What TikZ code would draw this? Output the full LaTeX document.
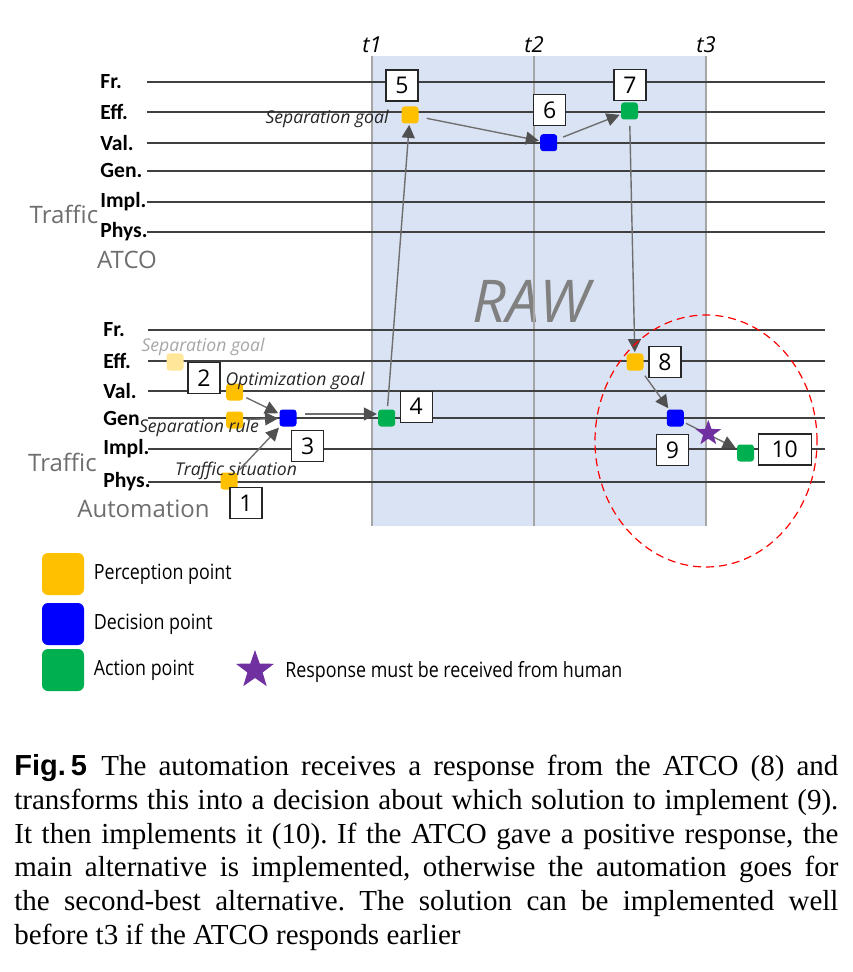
\documentclass[tikz,border=0pt]{standalone}
\usepackage{fontspec}
\usepackage{tikz}
\usetikzlibrary{arrows.meta,positioning,shapes.geometric}
\setmainfont{Open Sans}
\newfontfamily\rowfont{Carlito}
\newfontfamily\legfont{Open Sans}[FakeStretch=0.85]
\newfontfamily\capfont{Liberation Serif}
\newfontfamily\figfont{Liberation Sans}
\definecolor{perc}{HTML}{FFC000}
\definecolor{percfade}{HTML}{FFE699}
\definecolor{decis}{HTML}{0000FF}
\definecolor{actn}{HTML}{00B050}
\definecolor{starcol}{HTML}{7030A0}
\definecolor{rawbg}{HTML}{DAE3F3}
\definecolor{tline}{HTML}{A6A6A6}
\definecolor{gridline}{HTML}{404040}
\definecolor{arrowgray}{HTML}{6F6F6F}
\definecolor{tipgray}{HTML}{505050}
\definecolor{grouptext}{HTML}{6E6E6E}
\frenchspacing

\begin{document}
\begin{tikzpicture}[x=0.5pt,y=-0.5pt,
  ptsq/.style={rectangle,rounded corners=1.5pt,minimum size=8.5pt,inner sep=0pt},
  percept/.style={ptsq,fill=perc},
  decide/.style={ptsq,fill=decis},
  act/.style={ptsq,fill=actn},
  numbox/.style={rectangle,draw=black!85,fill=white,line width=0.6pt,
                 minimum width=16pt,minimum height=15.5pt,inner sep=0pt,
                 font=\fontsize{11.5}{12}\selectfont},
  tag/.style={inner sep=0pt,text=black!85,font=\fontsize{8.8}{10}\selectfont\itshape},
  rowlbl/.style={anchor=west,inner sep=0pt,font=\rowfont\bfseries\fontsize{10.8}{12}\selectfont},
  grouplbl/.style={inner sep=0pt,text=grouptext,font=\fontsize{12}{14}\selectfont},
  tlbl/.style={inner sep=0pt,font=\fontsize{11}{12}\selectfont\itshape},
  arr/.style={-{Triangle[length=6.5pt,width=6.5pt,color=tipgray]},draw=arrowgray,
              line width=0.7pt,shorten <=1.5pt,shorten >=0.5pt},
  hstar/.style={star,star points=5,star point ratio=2.5,fill=starcol,
                minimum size=13.5pt,inner sep=0pt},
  legsq/.style={rectangle,rounded corners=3pt,minimum width=21pt,
                minimum height=21pt,inner sep=0pt},
  legtxt/.style={inner sep=0pt,anchor=west,font=\legfont\fontsize{10.5}{12}\selectfont}
]
\useasboundingbox (0,0) rectangle (852,972);

% --- RAW window
\fill[rawbg] (372,56) rectangle (706,526);
\node[inner sep=0pt,text=black!50,font=\fontsize{29.5}{30}\selectfont\itshape] (raw) at (531,301) {RAW};
\foreach \x/\t in {372/t1,534/t2,706/t3} {
  \draw[tline,line width=0.6pt] (\x,56) -- (\x,526);
  \node[tlbl] (\t) at (\x,45) {\t};
}

% --- ATCO rows
\foreach \lab/\y in {Fr./82,Eff./111.7,Val./142.7,Gen./171,Impl./201.7,Phys./231.7} {
  \node[rowlbl] at (100,\y) {\lab};
  \draw[gridline,line width=0.9pt] (147,\y) -- (825,\y);
}
\node[grouplbl] (trafA) at (64,214) {Traffic};
\node[grouplbl] (atco)  at (127,260) {ATCO};

% --- automation rows
\foreach \lab/\y in {Fr./330,Eff./360.7,Val./390.7,Gen/418,Impl./449,Phys./481.7} {
  \node[rowlbl] at (103,\y) {\lab};
  \draw[gridline,line width=0.9pt] (148,\y) -- (825,\y);
}
\node[grouplbl] (trafB) at (62.5,462) {Traffic};
\node[grouplbl] (auto)  at (143.5,509) {Automation};

% --- automation points
\node[ptsq,fill=percfade] (pg) at (175,362) {};
\node[tag,text=black!35] (tgsep) at (203,347) {Separation goal};
\node[numbox] (n2) at (204,378) {2};
\node[percept] (po) at (234.7,392) {};
\node[tag] (tgopt) at (295,381) {Optimization goal};
\node[percept] (pr) at (234.7,420) {};
\node[tag] (tgrule) at (199,428) {Separation rule};
\node[percept] (p1) at (229,481) {};
\node[tag] (tgsit) at (236,471) {Traffic situation};
\node[numbox] (n1) at (246,503) {1};
\node[decide] (d3) at (288,418) {};
\node[numbox] (n3) at (307.8,446) {3};
\node[act] (a4) at (386.7,418) {};
\node[numbox] (n4) at (416.3,406.7) {4};

% --- ATCO points
\node[percept] (p5) at (410,115) {};
\node[numbox] (n5) at (402,85.5) {5};
\node[tag] (tg5) at (327,119) {Separation goal};
\node[decide] (d6) at (548.7,142.7) {};
\node[numbox] (n6) at (549.7,110.3) {6};
\node[act] (a7) at (629.5,111) {};
\node[numbox] (n7) at (630,85.3) {7};

% --- response
\node[percept] (p8) at (635,362) {};
\node[numbox] (n8) at (665,362) {8};
\node[decide] (d9) at (675.3,418) {};
\node[numbox] (n9) at (672.5,450) {9};
\node[act] (a10) at (745.5,453) {};
\node[numbox,minimum width=26.5pt] (n10) at (784.7,449.5) {10};

\draw[arr] (po) -- (d3);
\draw[arr] (pr) -- (d3);
\draw[arr] (p1) -- (d3);
\draw[arr,shorten <=4pt] ([yshift=2pt]d3.east) -- ([yshift=2pt]a4.west);
\draw[arr] (a4) -- (p5);
\draw[arr,shorten <=4pt] (p5) -- (d6);
\draw[arr,shorten <=3pt] (d6) -- (a7);
\draw[arr,shorten <=3pt] (a7) -- (p8);
\draw[arr,shorten <=3pt] (p8) -- (d9);
\draw[arr,shorten <=1pt] (d9) -- (a10);
\node[hstar] (s9) at (708.3,433.3) {};

\draw[red,dashed,dash pattern=on 4pt off 2.5pt,line width=0.6pt]
  (706,441) ellipse [x radius=55.5pt,y radius=63pt];

% --- legend
\node[legsq,fill=perc]  (lp) at (63,574) {};
\node[legsq,fill=decis] (ld) at (63,624) {};
\node[legsq,fill=actn]  (la) at (63,670) {};
\node[legtxt,right=4.5pt of lp] (lpt) {Perception point};
\node[legtxt,right=4.5pt of ld] (ldt) {Decision point};
\node[legtxt,right=4.5pt of la] (lat) {Action point};
\node[hstar,minimum size=20pt] (ls) at (255,670) {};
\node[legtxt] (lst) at (285,672) {Response must be received from human};

% --- caption
\node[anchor=north west,inner sep=0pt,align=left,
      font=\capfont\fontsize{14.5}{16.9}\selectfont] (caption) at (14,754) {%
\makebox[412pt][s]{{\figfont\bfseries Fig.\,5}\enspace The automation receives a response from the ATCO (8) and}\\
\makebox[412pt][s]{transforms this into a decision about which solution to implement (9).}\\
\makebox[412pt][s]{It then implements it (10). If the ATCO gave a positive response, the}\\
\makebox[412pt][s]{main alternative is implemented, otherwise the automation goes for}\\
\makebox[412pt][s]{the second-best alternative. The solution can be implemented well}\\
before t3 if the ATCO responds earlier};
\end{tikzpicture}
\end{document}
